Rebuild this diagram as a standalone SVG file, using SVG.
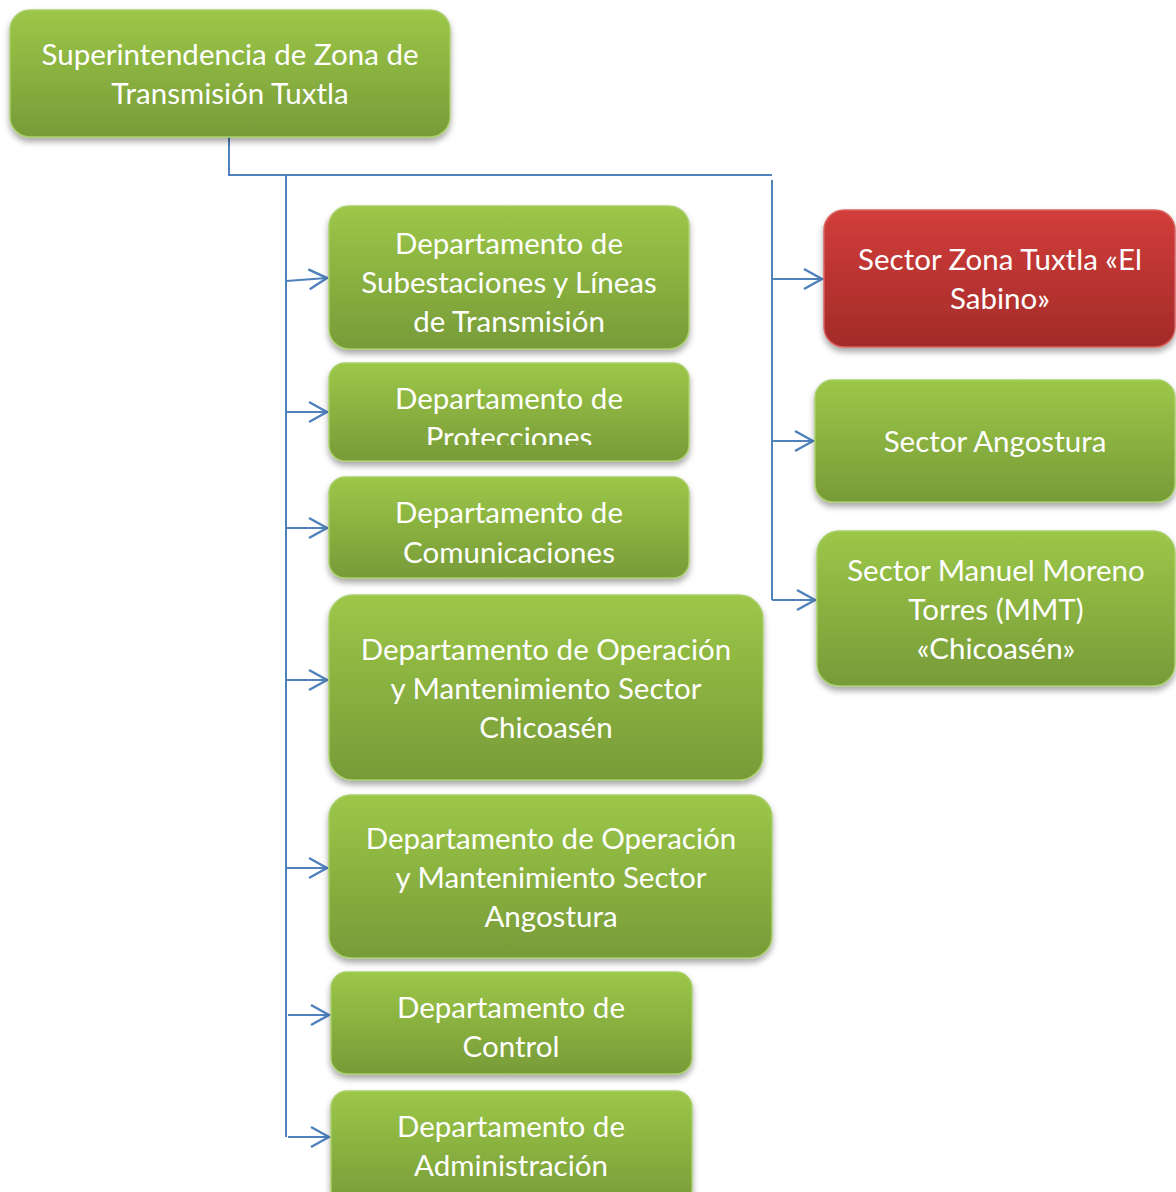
<svg xmlns="http://www.w3.org/2000/svg" width="1176" height="1192" viewBox="0 0 1176 1192">
  <defs>
    <linearGradient id="gGreen" x1="0" y1="0" x2="0" y2="1">
      <stop offset="0" stop-color="#9cc748"/>
      <stop offset="1" stop-color="#779b38"/>
    </linearGradient>
    <linearGradient id="gRed" x1="0" y1="0" x2="0" y2="1">
      <stop offset="0" stop-color="#d13d3a"/>
      <stop offset="1" stop-color="#a32b29"/>
    </linearGradient>
    <filter id="shadow" x="-10%" y="-10%" width="120%" height="130%">
      <feDropShadow dx="0" dy="4" stdDeviation="3" flood-color="#000" flood-opacity="0.35"/>
    </filter>
    <marker id="arrow" viewBox="0 0 22 24" refX="20" refY="12" markerWidth="22" markerHeight="24" markerUnits="userSpaceOnUse" orient="auto">
      <path d="M2,2 L20,12 L2,22" fill="none" stroke="#4f81bd" stroke-width="2.5"/>
    </marker>
    <clipPath id="clipProt">
      <rect x="329" y="363" width="360" height="82"/>
    </clipPath>
  </defs>
  <style>
    .box { stroke: #a9cf6a; stroke-width: 1.5; filter: url(#shadow); }
    .green { fill: url(#gGreen); }
    .red { fill: url(#gRed); stroke: #d9625f; }
    .lbl { font-family: "Lato", "Liberation Sans", sans-serif; font-size: 29.5px; fill: #ffffff; text-anchor: middle; }
    .wire { fill: none; stroke: #4f81bd; stroke-width: 2; }
    .arr { fill: none; stroke: #4f81bd; stroke-width: 2; marker-end: url(#arrow); }
  </style>

  <g id="connectors">
    <path class="wire" d="M229,137 V175 H772"/>
    <path class="wire" d="M286,175 V1137"/>
    <path class="wire" d="M772,180 V600"/>
    <path class="arr" d="M286,281 L327,278"/>
    <path class="arr" d="M286,412 L327,412"/>
    <path class="arr" d="M286,528 L327,528"/>
    <path class="arr" d="M286,680 L327,680"/>
    <path class="arr" d="M286,868 L327,868"/>
    <path class="arr" d="M288,1015 L329,1015"/>
    <path class="arr" d="M288,1137 L329,1137"/>
    <path class="arr" d="M772,279 L822,279"/>
    <path class="arr" d="M772,441 L813,441"/>
    <path class="arr" d="M772,600 L815,600"/>
  </g>

  <g id="n-superintendencia">
    <rect class="box green" x="10" y="10" width="440" height="127" rx="20"/>
    <text class="lbl" x="230" y="65">Superintendencia de Zona de</text>
    <text class="lbl" x="230" y="104">Transmisión Tuxtla</text>
  </g>

  <g id="n-subestaciones">
    <rect class="box green" x="329" y="206" width="360" height="143" rx="20"/>
    <text class="lbl" x="509" y="254">Departamento de</text>
    <text class="lbl" x="509" y="293">Subestaciones y Líneas</text>
    <text class="lbl" x="509" y="332">de Transmisión</text>
  </g>

  <g id="n-protecciones">
    <rect class="box green" x="329" y="363" width="360" height="98" rx="16"/>
    <text class="lbl" x="509" y="409">Departamento de</text>
    <text class="lbl" x="509" y="448" clip-path="url(#clipProt)">Protecciones</text>
  </g>

  <g id="n-comunicaciones">
    <rect class="box green" x="329" y="477" width="360" height="101" rx="16"/>
    <text class="lbl" x="509" y="523">Departamento de</text>
    <text class="lbl" x="509" y="563">Comunicaciones</text>
  </g>

  <g id="n-om-chicoasen">
    <rect class="box green" x="329" y="595" width="434" height="185" rx="24"/>
    <text class="lbl" x="546" y="660">Departamento de Operación</text>
    <text class="lbl" x="546" y="699">y Mantenimiento Sector</text>
    <text class="lbl" x="546" y="738">Chicoasén</text>
  </g>

  <g id="n-om-angostura">
    <rect class="box green" x="329" y="795" width="443" height="163" rx="22"/>
    <text class="lbl" x="551" y="849">Departamento de Operación</text>
    <text class="lbl" x="551" y="888">y Mantenimiento Sector</text>
    <text class="lbl" x="551" y="927">Angostura</text>
  </g>

  <g id="n-control">
    <rect class="box green" x="331" y="972" width="361" height="102" rx="16"/>
    <text class="lbl" x="511" y="1018">Departamento de</text>
    <text class="lbl" x="511" y="1057">Control</text>
  </g>

  <g id="n-administracion">
    <rect class="box green" x="331" y="1091" width="361" height="115" rx="16"/>
    <text class="lbl" x="511" y="1137">Departamento de</text>
    <text class="lbl" x="511" y="1176">Administración</text>
  </g>

  <g id="n-sabino">
    <rect class="box red" x="824" y="210" width="351" height="137" rx="20"/>
    <text class="lbl" x="1000" y="270">Sector Zona Tuxtla «El</text>
    <text class="lbl" x="1000" y="309">Sabino»</text>
  </g>

  <g id="n-angostura">
    <rect class="box green" x="815" y="380" width="360" height="122" rx="18"/>
    <text class="lbl" x="995" y="452">Sector Angostura</text>
  </g>

  <g id="n-mmt">
    <rect class="box green" x="817" y="531" width="358" height="155" rx="22"/>
    <text class="lbl" x="996" y="581">Sector Manuel Moreno</text>
    <text class="lbl" x="996" y="620">Torres (MMT)</text>
    <text class="lbl" x="996" y="659">«Chicoasén»</text>
  </g>
</svg>
